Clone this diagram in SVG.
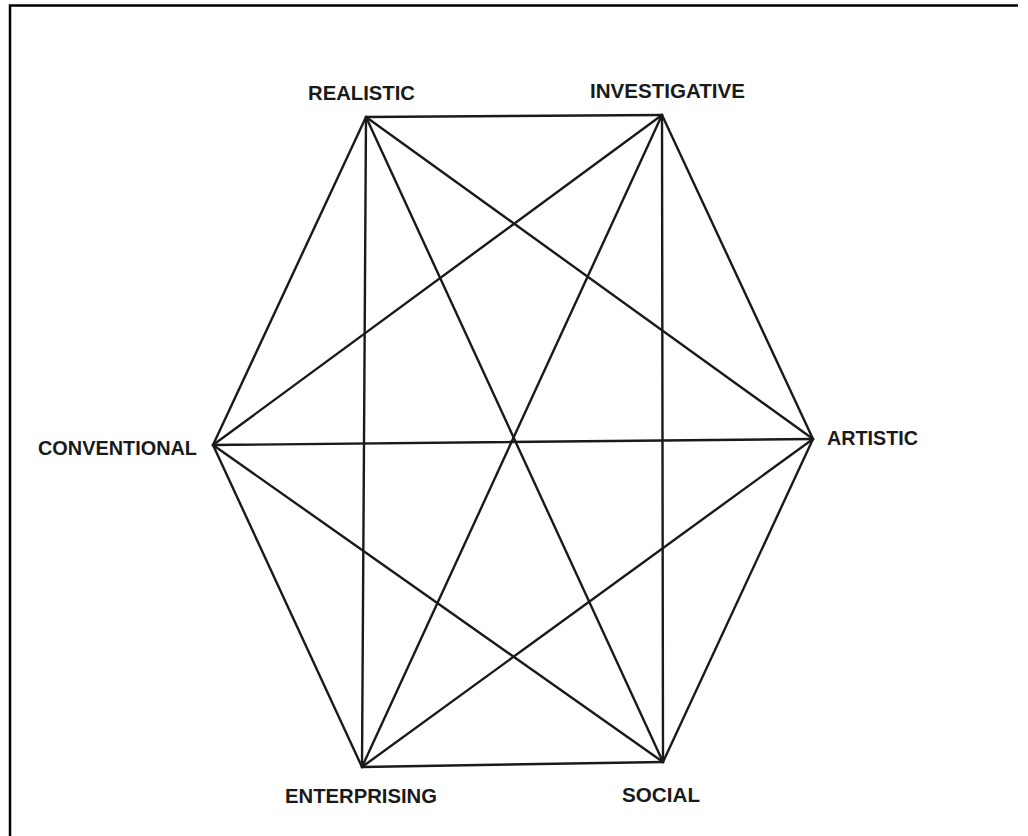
<svg xmlns="http://www.w3.org/2000/svg" width="1028" height="836" viewBox="0 0 1028 836">
<style>
.lbl{font-family:"Liberation Sans",Arial,sans-serif;font-weight:bold;font-size:21px;fill:#1a1a1a}
.ln{stroke:#1a1a1a;stroke-width:2.4;fill:none;stroke-linecap:round}
.frame{stroke:#000;stroke-width:2.5;fill:none}
</style>
<rect width="1028" height="836" fill="#fff"/>
<path class="frame" d="M10 836 V5.5 H1018"/>
<g id="connectors">
<line class="ln" x1="366" y1="117" x2="662" y2="115"/>
<line class="ln" x1="366" y1="117" x2="813" y2="439"/>
<line class="ln" x1="366" y1="117" x2="663" y2="762"/>
<line class="ln" x1="366" y1="117" x2="362" y2="767"/>
<line class="ln" x1="366" y1="117" x2="213" y2="445"/>
<line class="ln" x1="662" y1="115" x2="813" y2="439"/>
<line class="ln" x1="662" y1="115" x2="663" y2="762"/>
<line class="ln" x1="662" y1="115" x2="362" y2="767"/>
<line class="ln" x1="662" y1="115" x2="213" y2="445"/>
<line class="ln" x1="813" y1="439" x2="663" y2="762"/>
<line class="ln" x1="813" y1="439" x2="362" y2="767"/>
<line class="ln" x1="813" y1="439" x2="213" y2="445"/>
<line class="ln" x1="663" y1="762" x2="362" y2="767"/>
<line class="ln" x1="663" y1="762" x2="213" y2="445"/>
<line class="ln" x1="362" y1="767" x2="213" y2="445"/>
</g>
<g id="realistic"><text class="lbl" x="308" y="100" textLength="107" lengthAdjust="spacingAndGlyphs">REALISTIC</text></g>
<g id="investigative"><text class="lbl" x="590" y="98" textLength="155" lengthAdjust="spacingAndGlyphs">INVESTIGATIVE</text></g>
<g id="artistic"><text class="lbl" x="827" y="445" textLength="91" lengthAdjust="spacingAndGlyphs">ARTISTIC</text></g>
<g id="social"><text class="lbl" x="622" y="802" textLength="78" lengthAdjust="spacingAndGlyphs">SOCIAL</text></g>
<g id="enterprising"><text class="lbl" x="285" y="803" textLength="152" lengthAdjust="spacingAndGlyphs">ENTERPRISING</text></g>
<g id="conventional"><text class="lbl" x="38" y="455" textLength="159" lengthAdjust="spacingAndGlyphs">CONVENTIONAL</text></g>
</svg>
